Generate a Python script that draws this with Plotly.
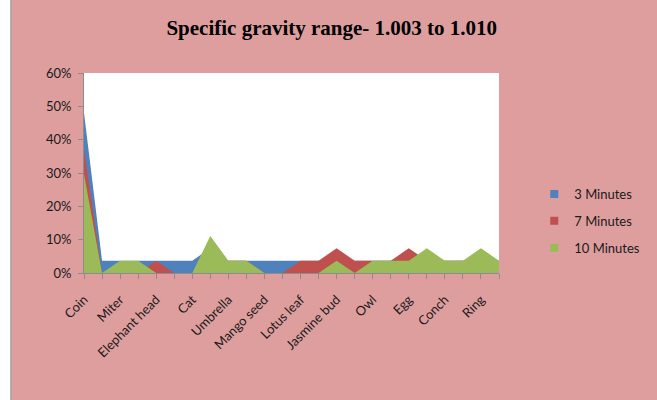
import plotly.graph_objects as go

# Category positions (24 categories, every other one labelled on the axis)
label_names = ["Coin", "Miter", "Elephant head", "Cat", "Umbrella", "Mango seed",
               "Lotus leaf", "Jasmine bud", "Owl", "Egg", "Conch", "Ring"]
n_categories = 24
x_idx = list(range(n_categories))

min3 = [0.481, 0.037, 0.037, 0.037, 0.037, 0.037, 0.037, 0.074, 0.037, 0.037, 0.037, 0.037,
        0.037, 0.037, 0.037, 0.037, 0.037, 0.037, 0.037, 0.037, 0.037, 0.037, 0.037, 0.037]
min7 = [0.370, 0.0, 0.0, 0.0, 0.037, 0.0, 0.0, 0.037, 0.037, 0.037, 0.0, 0.0,
        0.037, 0.037, 0.074, 0.037, 0.037, 0.037, 0.074, 0.037, 0.037, 0.037, 0.037, 0.037]
min10 = [0.296, 0.0, 0.037, 0.037, 0.0, 0.0, 0.0, 0.111, 0.037, 0.037, 0.0, 0.0,
         0.0, 0.0, 0.037, 0.0, 0.037, 0.037, 0.037, 0.074, 0.037, 0.037, 0.074, 0.037]

series_names = ["3 Minutes", "7 Minutes", "10 Minutes"]
colors = ["#4F81BD", "#C0504D", "#9BBB59"]
series = [min3, min7, min10]

tick_text = []
for i in range(n_categories):
    tick_text.append(label_names[i // 2] if i % 2 == 0 else "")

fig = go.Figure()
for name, vals, col in zip(series_names, series, colors):
    fig.add_trace(go.Scatter(x=x_idx, y=vals, mode="lines", fill="tozeroy",
                             fillcolor=col, line=dict(width=0, color=col),
                             name=name, showlegend=False, hoverinfo="skip"))
for i, (name, col) in enumerate(zip(series_names, colors)):
    fig.add_trace(go.Scatter(x=[None], y=[None], mode="markers",
                             marker=dict(symbol="square", size=8, color=col),
                             name=name, legendgroup=f"g{i}", showlegend=True))

PINK = "#DE9E9E"
font = "Lato, 'Open Sans', sans-serif"

fig.update_layout(
    width=657, height=400,
    margin=dict(l=84, r=155, t=73, b=127),
    paper_bgcolor=PINK, plot_bgcolor="white",
    title=dict(text="<b>Specific gravity range- 1.003 to 1.010</b>",
               font=dict(family="'Liberation Serif', 'Times New Roman', serif", size=21, color="black"),
               x=0.505, xanchor="center", y=0.93, yanchor="middle", xref="container", yref="container"),
    font=dict(family=font, size=13, color="#1a1a1a"),
    legend=dict(x=1.085, xanchor="left", y=0.26, yanchor="middle", bgcolor="rgba(0,0,0,0)",
                font=dict(family=font, size=13, color="#1a1a1a"), tracegroupgap=7,
                itemwidth=30),
    xaxis=dict(range=[0, 23], tickmode="array", tickvals=x_idx, ticktext=tick_text,
               tickangle=-45, showgrid=False, zeroline=False, showline=True,
               linecolor="#8C8C8C", linewidth=1, ticks="outside", ticklen=5, tickcolor="#8C8C8C",
               ticklabelstandoff=8, tickfont=dict(size=13)),
    yaxis=dict(range=[0, 0.6], dtick=0.1, tickformat=".0%", showgrid=False, zeroline=False,
               showline=True, linecolor="#8C8C8C", linewidth=1, ticks="outside", ticklen=5,
               tickcolor="#8C8C8C", ticklabelstandoff=4, tickfont=dict(size=13)),
    shapes=[
        dict(type="rect", xref="paper", yref="paper", x0=-1, x1=-0.177, y0=-2, y1=3,
             fillcolor="white", line=dict(width=0), layer="below"),
        dict(type="line", xref="paper", yref="paper", x0=-0.176, x1=-0.176, y0=-2, y1=3,
             line=dict(color="#A6A6A6", width=1.5), layer="below"),
    ],
)

fig.write_html("out.html", config={"displayModeBar": False},
               post_script="document.body.style.margin='0';document.body.style.padding='0';")
